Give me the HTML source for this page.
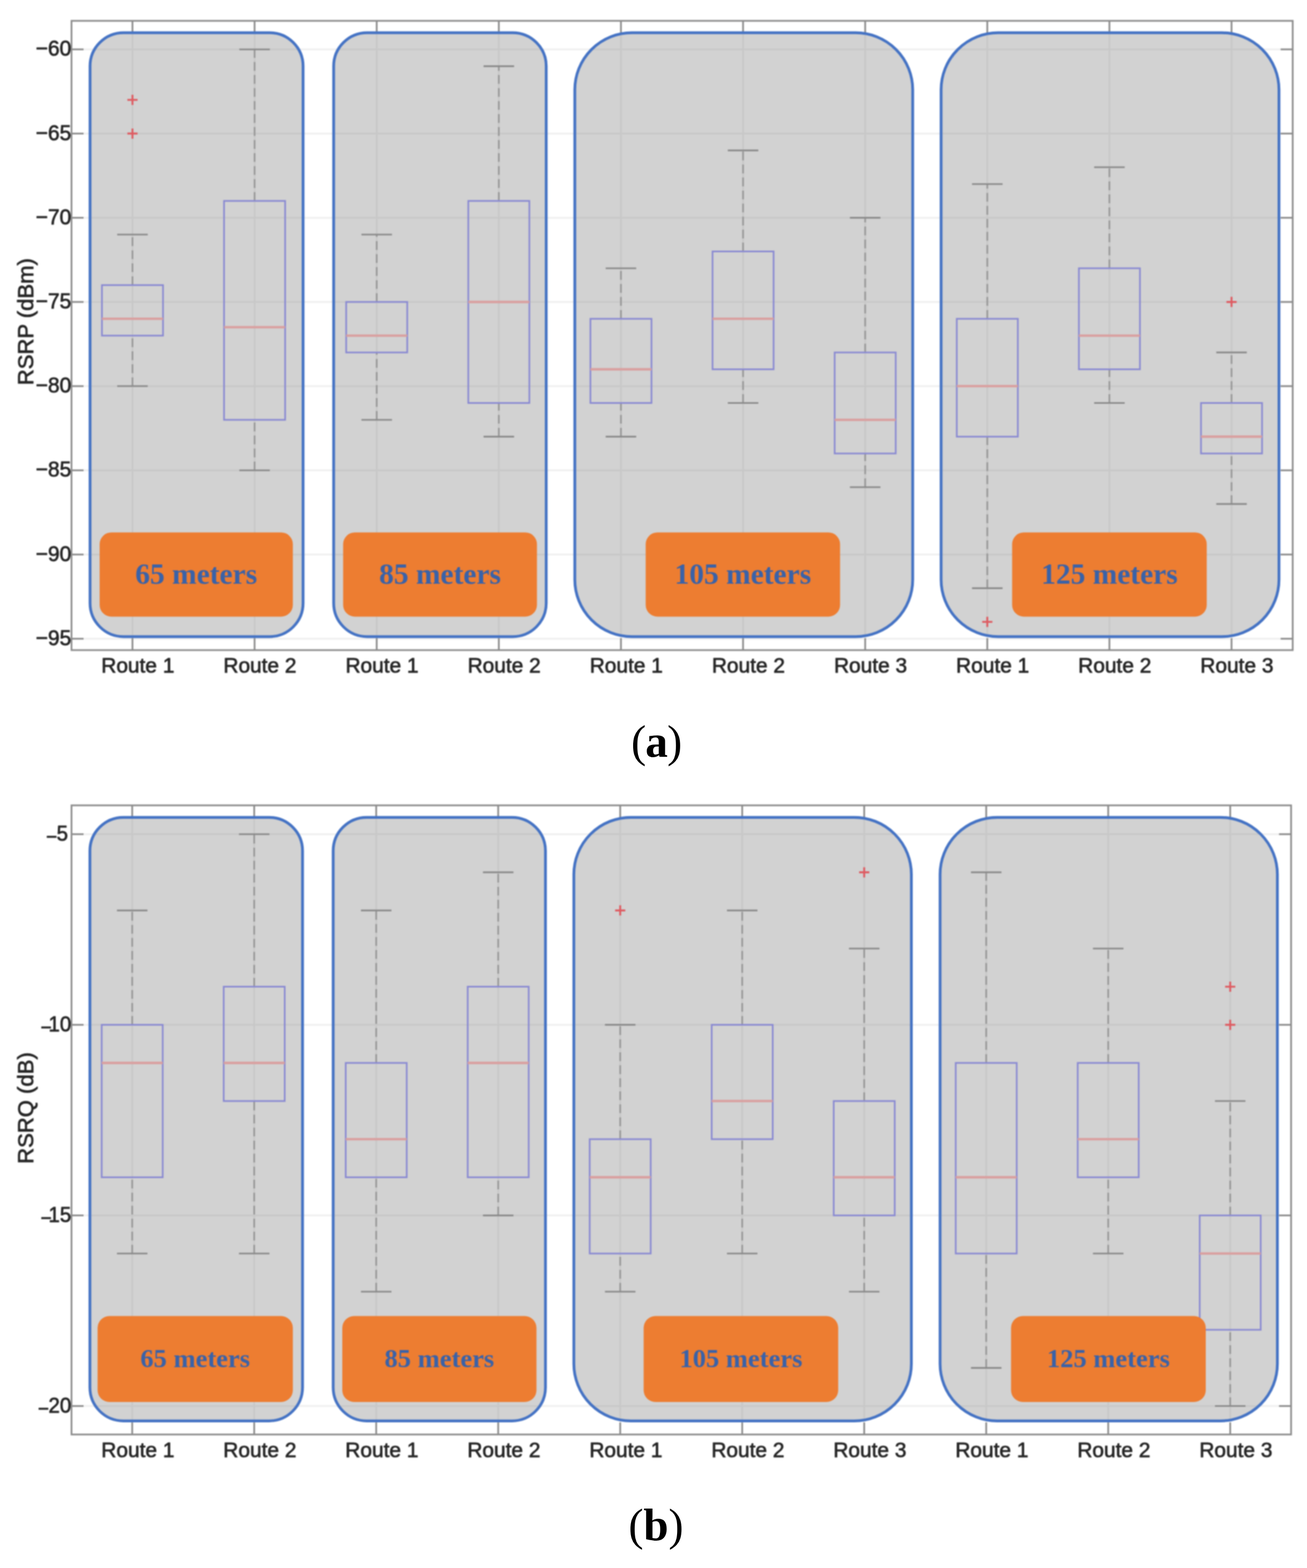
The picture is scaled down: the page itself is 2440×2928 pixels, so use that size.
<!DOCTYPE html>
<html lang="en">
<head>
<meta charset="utf-8">
<title>RSRP and RSRQ box plots by route and distance</title>
<style>
html, body { margin: 0; padding: 0; background: #ffffff; }
body { width: 2440px; height: 2928px; overflow: hidden; }
svg { display: block; }
</style>
</head>
<body>
<svg width="2440" height="2928" viewBox="0 0 2440 2928" role="img" aria-label="Box plots of RSRP and RSRQ per route at 65, 85, 105 and 125 meters">
<defs><filter id="soft" x="0" y="0" width="2440" height="2928" filterUnits="userSpaceOnUse" color-interpolation-filters="sRGB"><feGaussianBlur stdDeviation="0.8"/></filter>
<filter id="soft2" x="0" y="0" width="2440" height="2928" filterUnits="userSpaceOnUse" color-interpolation-filters="sRGB"><feGaussianBlur stdDeviation="0.35"/></filter></defs>
<rect x="0" y="0" width="2440" height="2928" fill="#ffffff"/>
<g id="chart-a" filter="url(#soft)">
<rect x="0" y="-1.1" width="2440" height="1295.1" fill="#ffffff"/>
<defs><clipPath id="clip-a">
<rect x="168.1" y="61.1" width="397.7" height="1127.7" rx="62.5" ry="62.5"/>
<rect x="622.9" y="61.1" width="396.8" height="1127.7" rx="62.5" ry="62.5"/>
<rect x="1073.1" y="61.1" width="630.8" height="1127.7" rx="106.5" ry="106.5"/>
<rect x="1756.9" y="61.1" width="630.8" height="1127.7" rx="106.5" ry="106.5"/>
</clipPath></defs>
<g stroke="#f0f0f0" stroke-width="3.5" fill="none">
<line x1="133.5" y1="92.2" x2="2413.3" y2="92.2"/>
<line x1="133.5" y1="249.42" x2="2413.3" y2="249.42"/>
<line x1="133.5" y1="406.63" x2="2413.3" y2="406.63"/>
<line x1="133.5" y1="563.85" x2="2413.3" y2="563.85"/>
<line x1="133.5" y1="721.06" x2="2413.3" y2="721.06"/>
<line x1="133.5" y1="878.28" x2="2413.3" y2="878.28"/>
<line x1="133.5" y1="1035.49" x2="2413.3" y2="1035.49"/>
<line x1="133.5" y1="1192.71" x2="2413.3" y2="1192.71"/>
<line x1="247.3" y1="38.9" x2="247.3" y2="1214"/>
<line x1="475.28" y1="38.9" x2="475.28" y2="1214"/>
<line x1="703.26" y1="38.9" x2="703.26" y2="1214"/>
<line x1="931.24" y1="38.9" x2="931.24" y2="1214"/>
<line x1="1159.22" y1="38.9" x2="1159.22" y2="1214"/>
<line x1="1387.2" y1="38.9" x2="1387.2" y2="1214"/>
<line x1="1615.18" y1="38.9" x2="1615.18" y2="1214"/>
<line x1="1843.16" y1="38.9" x2="1843.16" y2="1214"/>
<line x1="2071.14" y1="38.9" x2="2071.14" y2="1214"/>
<line x1="2299.12" y1="38.9" x2="2299.12" y2="1214"/>
</g>
<g stroke="#8c8c8c" stroke-width="3.2" fill="none">
<line x1="133.5" y1="92.2" x2="156" y2="92.2"/>
<line x1="2390.8" y1="92.2" x2="2413.3" y2="92.2"/>
<line x1="133.5" y1="249.42" x2="156" y2="249.42"/>
<line x1="2390.8" y1="249.42" x2="2413.3" y2="249.42"/>
<line x1="133.5" y1="406.63" x2="156" y2="406.63"/>
<line x1="2390.8" y1="406.63" x2="2413.3" y2="406.63"/>
<line x1="133.5" y1="563.85" x2="156" y2="563.85"/>
<line x1="2390.8" y1="563.85" x2="2413.3" y2="563.85"/>
<line x1="133.5" y1="721.06" x2="156" y2="721.06"/>
<line x1="2390.8" y1="721.06" x2="2413.3" y2="721.06"/>
<line x1="133.5" y1="878.28" x2="156" y2="878.28"/>
<line x1="2390.8" y1="878.28" x2="2413.3" y2="878.28"/>
<line x1="133.5" y1="1035.49" x2="156" y2="1035.49"/>
<line x1="2390.8" y1="1035.49" x2="2413.3" y2="1035.49"/>
<line x1="133.5" y1="1192.71" x2="156" y2="1192.71"/>
<line x1="2390.8" y1="1192.71" x2="2413.3" y2="1192.71"/>
<line x1="247.3" y1="38.9" x2="247.3" y2="61.4"/>
<line x1="247.3" y1="1191.5" x2="247.3" y2="1214"/>
<line x1="475.28" y1="38.9" x2="475.28" y2="61.4"/>
<line x1="475.28" y1="1191.5" x2="475.28" y2="1214"/>
<line x1="703.26" y1="38.9" x2="703.26" y2="61.4"/>
<line x1="703.26" y1="1191.5" x2="703.26" y2="1214"/>
<line x1="931.24" y1="38.9" x2="931.24" y2="61.4"/>
<line x1="931.24" y1="1191.5" x2="931.24" y2="1214"/>
<line x1="1159.22" y1="38.9" x2="1159.22" y2="61.4"/>
<line x1="1159.22" y1="1191.5" x2="1159.22" y2="1214"/>
<line x1="1387.2" y1="38.9" x2="1387.2" y2="61.4"/>
<line x1="1387.2" y1="1191.5" x2="1387.2" y2="1214"/>
<line x1="1615.18" y1="38.9" x2="1615.18" y2="61.4"/>
<line x1="1615.18" y1="1191.5" x2="1615.18" y2="1214"/>
<line x1="1843.16" y1="38.9" x2="1843.16" y2="61.4"/>
<line x1="1843.16" y1="1191.5" x2="1843.16" y2="1214"/>
<line x1="2071.14" y1="38.9" x2="2071.14" y2="61.4"/>
<line x1="2071.14" y1="1191.5" x2="2071.14" y2="1214"/>
<line x1="2299.12" y1="38.9" x2="2299.12" y2="61.4"/>
<line x1="2299.12" y1="1191.5" x2="2299.12" y2="1214"/>
<rect x="133.5" y="38.9" width="2279.8" height="1175.1"/>
</g>
<rect x="168.1" y="61.1" width="397.7" height="1127.7" rx="62.5" ry="62.5" fill="#d2d2d2"/>
<rect x="622.9" y="61.1" width="396.8" height="1127.7" rx="62.5" ry="62.5" fill="#d2d2d2"/>
<rect x="1073.1" y="61.1" width="630.8" height="1127.7" rx="106.5" ry="106.5" fill="#d2d2d2"/>
<rect x="1756.9" y="61.1" width="630.8" height="1127.7" rx="106.5" ry="106.5" fill="#d2d2d2"/>
<g stroke="#c8c8c8" stroke-width="3.3" fill="none" clip-path="url(#clip-a)">
<line x1="133.5" y1="92.2" x2="2413.3" y2="92.2"/>
<line x1="133.5" y1="249.42" x2="2413.3" y2="249.42"/>
<line x1="133.5" y1="406.63" x2="2413.3" y2="406.63"/>
<line x1="133.5" y1="563.85" x2="2413.3" y2="563.85"/>
<line x1="133.5" y1="721.06" x2="2413.3" y2="721.06"/>
<line x1="133.5" y1="878.28" x2="2413.3" y2="878.28"/>
<line x1="133.5" y1="1035.49" x2="2413.3" y2="1035.49"/>
<line x1="133.5" y1="1192.71" x2="2413.3" y2="1192.71"/>
<line x1="247.3" y1="38.9" x2="247.3" y2="1214"/>
<line x1="475.28" y1="38.9" x2="475.28" y2="1214"/>
<line x1="703.26" y1="38.9" x2="703.26" y2="1214"/>
<line x1="931.24" y1="38.9" x2="931.24" y2="1214"/>
<line x1="1159.22" y1="38.9" x2="1159.22" y2="1214"/>
<line x1="1387.2" y1="38.9" x2="1387.2" y2="1214"/>
<line x1="1615.18" y1="38.9" x2="1615.18" y2="1214"/>
<line x1="1843.16" y1="38.9" x2="1843.16" y2="1214"/>
<line x1="2071.14" y1="38.9" x2="2071.14" y2="1214"/>
<line x1="2299.12" y1="38.9" x2="2299.12" y2="1214"/>
</g>
<rect x="168.1" y="61.1" width="397.7" height="1127.7" rx="62.5" ry="62.5" fill="none" stroke="#4573c4" stroke-width="5.2"/>
<rect x="622.9" y="61.1" width="396.8" height="1127.7" rx="62.5" ry="62.5" fill="none" stroke="#4573c4" stroke-width="5.2"/>
<rect x="1073.1" y="61.1" width="630.8" height="1127.7" rx="106.5" ry="106.5" fill="none" stroke="#4573c4" stroke-width="5.2"/>
<rect x="1756.9" y="61.1" width="630.8" height="1127.7" rx="106.5" ry="106.5" fill="none" stroke="#4573c4" stroke-width="5.2"/>
<g>
<line x1="247.3" y1="532.4" x2="247.3" y2="438.07" stroke="#989898" stroke-width="3.1" stroke-dasharray="16.4 7.9"/>
<line x1="247.3" y1="721.06" x2="247.3" y2="626.73" stroke="#989898" stroke-width="3.1" stroke-dasharray="16.4 7.9"/>
<line x1="218.8" y1="438.07" x2="275.8" y2="438.07" stroke="#8a8a8a" stroke-width="3.1"/>
<line x1="218.8" y1="721.06" x2="275.8" y2="721.06" stroke="#8a8a8a" stroke-width="3.1"/>
<rect x="190.31" y="532.4" width="113.99" height="94.33" fill="none" stroke="#8a8ad2" stroke-width="3.1"/>
<line x1="190.31" y1="595.29" x2="304.3" y2="595.29" stroke="#d9a0a0" stroke-width="4.6"/>
<path d="M237.8 186.53 H256.8 M247.3 177.03 V196.03" stroke="#de5c62" stroke-width="3.6" fill="none"/>
<path d="M237.8 249.42 H256.8 M247.3 239.92 V258.92" stroke="#de5c62" stroke-width="3.6" fill="none"/>
</g>
<g>
<line x1="475.28" y1="375.19" x2="475.28" y2="92.2" stroke="#989898" stroke-width="3.1" stroke-dasharray="16.4 7.9"/>
<line x1="475.28" y1="878.28" x2="475.28" y2="783.95" stroke="#989898" stroke-width="3.1" stroke-dasharray="16.4 7.9"/>
<line x1="446.78" y1="92.2" x2="503.78" y2="92.2" stroke="#8a8a8a" stroke-width="3.1"/>
<line x1="446.78" y1="878.28" x2="503.78" y2="878.28" stroke="#8a8a8a" stroke-width="3.1"/>
<rect x="418.28" y="375.19" width="113.99" height="408.76" fill="none" stroke="#8a8ad2" stroke-width="3.1"/>
<line x1="418.28" y1="611.01" x2="532.27" y2="611.01" stroke="#d9a0a0" stroke-width="4.6"/>
</g>
<g>
<line x1="703.26" y1="563.85" x2="703.26" y2="438.07" stroke="#989898" stroke-width="3.1" stroke-dasharray="16.4 7.9"/>
<line x1="703.26" y1="783.95" x2="703.26" y2="658.17" stroke="#989898" stroke-width="3.1" stroke-dasharray="16.4 7.9"/>
<line x1="674.76" y1="438.07" x2="731.76" y2="438.07" stroke="#8a8a8a" stroke-width="3.1"/>
<line x1="674.76" y1="783.95" x2="731.76" y2="783.95" stroke="#8a8a8a" stroke-width="3.1"/>
<rect x="646.26" y="563.85" width="113.99" height="94.33" fill="none" stroke="#8a8ad2" stroke-width="3.1"/>
<line x1="646.26" y1="626.73" x2="760.25" y2="626.73" stroke="#d9a0a0" stroke-width="4.6"/>
</g>
<g>
<line x1="931.24" y1="375.19" x2="931.24" y2="123.64" stroke="#989898" stroke-width="3.1" stroke-dasharray="16.4 7.9"/>
<line x1="931.24" y1="815.39" x2="931.24" y2="752.5" stroke="#989898" stroke-width="3.1" stroke-dasharray="16.4 7.9"/>
<line x1="902.74" y1="123.64" x2="959.74" y2="123.64" stroke="#8a8a8a" stroke-width="3.1"/>
<line x1="902.74" y1="815.39" x2="959.74" y2="815.39" stroke="#8a8a8a" stroke-width="3.1"/>
<rect x="874.25" y="375.19" width="113.99" height="377.32" fill="none" stroke="#8a8ad2" stroke-width="3.1"/>
<line x1="874.25" y1="563.85" x2="988.24" y2="563.85" stroke="#d9a0a0" stroke-width="4.6"/>
</g>
<g>
<line x1="1159.22" y1="595.29" x2="1159.22" y2="500.96" stroke="#989898" stroke-width="3.1" stroke-dasharray="16.4 7.9"/>
<line x1="1159.22" y1="815.39" x2="1159.22" y2="752.5" stroke="#989898" stroke-width="3.1" stroke-dasharray="16.4 7.9"/>
<line x1="1130.72" y1="500.96" x2="1187.72" y2="500.96" stroke="#8a8a8a" stroke-width="3.1"/>
<line x1="1130.72" y1="815.39" x2="1187.72" y2="815.39" stroke="#8a8a8a" stroke-width="3.1"/>
<rect x="1102.23" y="595.29" width="113.99" height="157.22" fill="none" stroke="#8a8ad2" stroke-width="3.1"/>
<line x1="1102.23" y1="689.62" x2="1216.21" y2="689.62" stroke="#d9a0a0" stroke-width="4.6"/>
</g>
<g>
<line x1="1387.2" y1="469.52" x2="1387.2" y2="280.86" stroke="#989898" stroke-width="3.1" stroke-dasharray="16.4 7.9"/>
<line x1="1387.2" y1="752.5" x2="1387.2" y2="689.62" stroke="#989898" stroke-width="3.1" stroke-dasharray="16.4 7.9"/>
<line x1="1358.7" y1="280.86" x2="1415.7" y2="280.86" stroke="#8a8a8a" stroke-width="3.1"/>
<line x1="1358.7" y1="752.5" x2="1415.7" y2="752.5" stroke="#8a8a8a" stroke-width="3.1"/>
<rect x="1330.2" y="469.52" width="113.99" height="220.1" fill="none" stroke="#8a8ad2" stroke-width="3.1"/>
<line x1="1330.2" y1="595.29" x2="1444.19" y2="595.29" stroke="#d9a0a0" stroke-width="4.6"/>
</g>
<g>
<line x1="1615.18" y1="658.17" x2="1615.18" y2="406.63" stroke="#989898" stroke-width="3.1" stroke-dasharray="16.4 7.9"/>
<line x1="1615.18" y1="909.72" x2="1615.18" y2="846.83" stroke="#989898" stroke-width="3.1" stroke-dasharray="16.4 7.9"/>
<line x1="1586.68" y1="406.63" x2="1643.68" y2="406.63" stroke="#8a8a8a" stroke-width="3.1"/>
<line x1="1586.68" y1="909.72" x2="1643.68" y2="909.72" stroke="#8a8a8a" stroke-width="3.1"/>
<rect x="1558.18" y="658.17" width="113.99" height="188.66" fill="none" stroke="#8a8ad2" stroke-width="3.1"/>
<line x1="1558.18" y1="783.95" x2="1672.17" y2="783.95" stroke="#d9a0a0" stroke-width="4.6"/>
</g>
<g>
<line x1="1843.16" y1="595.29" x2="1843.16" y2="343.74" stroke="#989898" stroke-width="3.1" stroke-dasharray="16.4 7.9"/>
<line x1="1843.16" y1="1098.38" x2="1843.16" y2="815.39" stroke="#989898" stroke-width="3.1" stroke-dasharray="16.4 7.9"/>
<line x1="1814.66" y1="343.74" x2="1871.66" y2="343.74" stroke="#8a8a8a" stroke-width="3.1"/>
<line x1="1814.66" y1="1098.38" x2="1871.66" y2="1098.38" stroke="#8a8a8a" stroke-width="3.1"/>
<rect x="1786.16" y="595.29" width="113.99" height="220.1" fill="none" stroke="#8a8ad2" stroke-width="3.1"/>
<line x1="1786.16" y1="721.06" x2="1900.15" y2="721.06" stroke="#d9a0a0" stroke-width="4.6"/>
<path d="M1833.66 1161.26 H1852.66 M1843.16 1151.76 V1170.76" stroke="#de5c62" stroke-width="3.6" fill="none"/>
</g>
<g>
<line x1="2071.14" y1="500.96" x2="2071.14" y2="312.3" stroke="#989898" stroke-width="3.1" stroke-dasharray="16.4 7.9"/>
<line x1="2071.14" y1="752.5" x2="2071.14" y2="689.62" stroke="#989898" stroke-width="3.1" stroke-dasharray="16.4 7.9"/>
<line x1="2042.64" y1="312.3" x2="2099.64" y2="312.3" stroke="#8a8a8a" stroke-width="3.1"/>
<line x1="2042.64" y1="752.5" x2="2099.64" y2="752.5" stroke="#8a8a8a" stroke-width="3.1"/>
<rect x="2014.14" y="500.96" width="113.99" height="188.66" fill="none" stroke="#8a8ad2" stroke-width="3.1"/>
<line x1="2014.14" y1="626.73" x2="2128.13" y2="626.73" stroke="#d9a0a0" stroke-width="4.6"/>
</g>
<g>
<line x1="2299.12" y1="752.5" x2="2299.12" y2="658.17" stroke="#989898" stroke-width="3.1" stroke-dasharray="16.4 7.9"/>
<line x1="2299.12" y1="941.16" x2="2299.12" y2="846.83" stroke="#989898" stroke-width="3.1" stroke-dasharray="16.4 7.9"/>
<line x1="2270.62" y1="658.17" x2="2327.62" y2="658.17" stroke="#8a8a8a" stroke-width="3.1"/>
<line x1="2270.62" y1="941.16" x2="2327.62" y2="941.16" stroke="#8a8a8a" stroke-width="3.1"/>
<rect x="2242.12" y="752.5" width="113.99" height="94.33" fill="none" stroke="#8a8ad2" stroke-width="3.1"/>
<line x1="2242.12" y1="815.39" x2="2356.11" y2="815.39" stroke="#d9a0a0" stroke-width="4.6"/>
<path d="M2289.62 563.85 H2308.62 M2299.12 554.35 V573.35" stroke="#de5c62" stroke-width="3.6" fill="none"/>
</g>
<rect x="186" y="994.2" width="360.7" height="157.3" rx="22" ry="22" fill="#ed7d31"/>
<text x="366.35" y="1090.3" text-anchor="middle" font-family="'Liberation Serif', 'DejaVu Serif', serif" font-weight="bold" font-size="55" fill="#3a62a8">65 meters</text>
<rect x="640.6" y="994.2" width="361.8" height="157.3" rx="22" ry="22" fill="#ed7d31"/>
<text x="821.5" y="1090.3" text-anchor="middle" font-family="'Liberation Serif', 'DejaVu Serif', serif" font-weight="bold" font-size="55" fill="#3a62a8">85 meters</text>
<rect x="1205.4" y="994.2" width="362.9" height="157.3" rx="22" ry="22" fill="#ed7d31"/>
<text x="1386.85" y="1090.3" text-anchor="middle" font-family="'Liberation Serif', 'DejaVu Serif', serif" font-weight="bold" font-size="55" fill="#3a62a8">105 meters</text>
<rect x="1889.5" y="994.2" width="363.3" height="157.3" rx="22" ry="22" fill="#ed7d31"/>
<text x="2071.15" y="1090.3" text-anchor="middle" font-family="'Liberation Serif', 'DejaVu Serif', serif" font-weight="bold" font-size="55" fill="#3a62a8">125 meters</text>
<g font-family="'Liberation Sans', 'DejaVu Sans', sans-serif" font-size="40" fill="#262626" stroke="#262626" stroke-width="1.1" stroke-linejoin="round">
<text transform="translate(133.1 104.4) scale(0.955 1)" text-anchor="end" font-size="41">−60</text>
<text transform="translate(133.1 261.62) scale(0.955 1)" text-anchor="end" font-size="41">−65</text>
<text transform="translate(133.1 418.83) scale(0.955 1)" text-anchor="end" font-size="41">−70</text>
<text transform="translate(133.1 576.05) scale(0.955 1)" text-anchor="end" font-size="41">−75</text>
<text transform="translate(133.1 733.26) scale(0.955 1)" text-anchor="end" font-size="41">−80</text>
<text transform="translate(133.1 890.48) scale(0.955 1)" text-anchor="end" font-size="41">−85</text>
<text transform="translate(133.1 1047.69) scale(0.955 1)" text-anchor="end" font-size="41">−90</text>
<text transform="translate(133.1 1204.91) scale(0.955 1)" text-anchor="end" font-size="41">−95</text>
<text x="257.3" y="1255.8" text-anchor="middle" font-size="39">Route 1</text>
<text x="485.28" y="1255.8" text-anchor="middle" font-size="39">Route 2</text>
<text x="713.26" y="1255.8" text-anchor="middle" font-size="39">Route 1</text>
<text x="941.24" y="1255.8" text-anchor="middle" font-size="39">Route 2</text>
<text x="1169.22" y="1255.8" text-anchor="middle" font-size="39">Route 1</text>
<text x="1397.2" y="1255.8" text-anchor="middle" font-size="39">Route 2</text>
<text x="1625.18" y="1255.8" text-anchor="middle" font-size="39">Route 3</text>
<text x="1853.16" y="1255.8" text-anchor="middle" font-size="39">Route 1</text>
<text x="2081.14" y="1255.8" text-anchor="middle" font-size="39">Route 2</text>
<text x="2309.12" y="1255.8" text-anchor="middle" font-size="39">Route 3</text>
<text transform="translate(62 600.7) rotate(-90)" text-anchor="middle" font-size="41.2">RSRP (dBm)</text>
</g>
</g>
<text x="1225.2" y="1412.6" text-anchor="middle" font-family="'Liberation Serif', 'DejaVu Serif', serif" font-size="84" fill="#000000" letter-spacing="-1.3" filter="url(#soft2)">(<tspan font-weight="bold">a</tspan>)</text>
<g id="chart-b" filter="url(#soft)">
<rect x="0" y="1463.9" width="2440" height="1294.8" fill="#ffffff"/>
<defs><clipPath id="clip-b">
<rect x="167.85" y="1526.3" width="396.95" height="1127" rx="62.5" ry="62.5"/>
<rect x="622" y="1526.3" width="396.3" height="1127" rx="62.5" ry="62.5"/>
<rect x="1071.3" y="1526.3" width="630.1" height="1127" rx="106.5" ry="106.5"/>
<rect x="1755" y="1526.3" width="629.7" height="1127" rx="106.5" ry="106.5"/>
</clipPath></defs>
<g stroke="#f0f0f0" stroke-width="3.5" fill="none">
<line x1="133.5" y1="1557.7" x2="2410.3" y2="1557.7"/>
<line x1="133.5" y1="1913.65" x2="2410.3" y2="1913.65"/>
<line x1="133.5" y1="2269.6" x2="2410.3" y2="2269.6"/>
<line x1="133.5" y1="2625.55" x2="2410.3" y2="2625.55"/>
<line x1="246.8" y1="1503.9" x2="246.8" y2="2678.7"/>
<line x1="474.56" y1="1503.9" x2="474.56" y2="2678.7"/>
<line x1="702.32" y1="1503.9" x2="702.32" y2="2678.7"/>
<line x1="930.08" y1="1503.9" x2="930.08" y2="2678.7"/>
<line x1="1157.84" y1="1503.9" x2="1157.84" y2="2678.7"/>
<line x1="1385.6" y1="1503.9" x2="1385.6" y2="2678.7"/>
<line x1="1613.36" y1="1503.9" x2="1613.36" y2="2678.7"/>
<line x1="1841.12" y1="1503.9" x2="1841.12" y2="2678.7"/>
<line x1="2068.88" y1="1503.9" x2="2068.88" y2="2678.7"/>
<line x1="2296.64" y1="1503.9" x2="2296.64" y2="2678.7"/>
</g>
<g stroke="#8c8c8c" stroke-width="3.2" fill="none">
<line x1="133.5" y1="1557.7" x2="156" y2="1557.7"/>
<line x1="2387.8" y1="1557.7" x2="2410.3" y2="1557.7"/>
<line x1="133.5" y1="1913.65" x2="156" y2="1913.65"/>
<line x1="2387.8" y1="1913.65" x2="2410.3" y2="1913.65"/>
<line x1="133.5" y1="2269.6" x2="156" y2="2269.6"/>
<line x1="2387.8" y1="2269.6" x2="2410.3" y2="2269.6"/>
<line x1="133.5" y1="2625.55" x2="156" y2="2625.55"/>
<line x1="2387.8" y1="2625.55" x2="2410.3" y2="2625.55"/>
<line x1="246.8" y1="1503.9" x2="246.8" y2="1526.4"/>
<line x1="246.8" y1="2656.2" x2="246.8" y2="2678.7"/>
<line x1="474.56" y1="1503.9" x2="474.56" y2="1526.4"/>
<line x1="474.56" y1="2656.2" x2="474.56" y2="2678.7"/>
<line x1="702.32" y1="1503.9" x2="702.32" y2="1526.4"/>
<line x1="702.32" y1="2656.2" x2="702.32" y2="2678.7"/>
<line x1="930.08" y1="1503.9" x2="930.08" y2="1526.4"/>
<line x1="930.08" y1="2656.2" x2="930.08" y2="2678.7"/>
<line x1="1157.84" y1="1503.9" x2="1157.84" y2="1526.4"/>
<line x1="1157.84" y1="2656.2" x2="1157.84" y2="2678.7"/>
<line x1="1385.6" y1="1503.9" x2="1385.6" y2="1526.4"/>
<line x1="1385.6" y1="2656.2" x2="1385.6" y2="2678.7"/>
<line x1="1613.36" y1="1503.9" x2="1613.36" y2="1526.4"/>
<line x1="1613.36" y1="2656.2" x2="1613.36" y2="2678.7"/>
<line x1="1841.12" y1="1503.9" x2="1841.12" y2="1526.4"/>
<line x1="1841.12" y1="2656.2" x2="1841.12" y2="2678.7"/>
<line x1="2068.88" y1="1503.9" x2="2068.88" y2="1526.4"/>
<line x1="2068.88" y1="2656.2" x2="2068.88" y2="2678.7"/>
<line x1="2296.64" y1="1503.9" x2="2296.64" y2="1526.4"/>
<line x1="2296.64" y1="2656.2" x2="2296.64" y2="2678.7"/>
<rect x="133.5" y="1503.9" width="2276.8" height="1174.8"/>
</g>
<rect x="167.85" y="1526.3" width="396.95" height="1127" rx="62.5" ry="62.5" fill="#d2d2d2"/>
<rect x="622" y="1526.3" width="396.3" height="1127" rx="62.5" ry="62.5" fill="#d2d2d2"/>
<rect x="1071.3" y="1526.3" width="630.1" height="1127" rx="106.5" ry="106.5" fill="#d2d2d2"/>
<rect x="1755" y="1526.3" width="629.7" height="1127" rx="106.5" ry="106.5" fill="#d2d2d2"/>
<g stroke="#c8c8c8" stroke-width="3.3" fill="none" clip-path="url(#clip-b)">
<line x1="133.5" y1="1557.7" x2="2410.3" y2="1557.7"/>
<line x1="133.5" y1="1913.65" x2="2410.3" y2="1913.65"/>
<line x1="133.5" y1="2269.6" x2="2410.3" y2="2269.6"/>
<line x1="133.5" y1="2625.55" x2="2410.3" y2="2625.55"/>
<line x1="246.8" y1="1503.9" x2="246.8" y2="2678.7"/>
<line x1="474.56" y1="1503.9" x2="474.56" y2="2678.7"/>
<line x1="702.32" y1="1503.9" x2="702.32" y2="2678.7"/>
<line x1="930.08" y1="1503.9" x2="930.08" y2="2678.7"/>
<line x1="1157.84" y1="1503.9" x2="1157.84" y2="2678.7"/>
<line x1="1385.6" y1="1503.9" x2="1385.6" y2="2678.7"/>
<line x1="1613.36" y1="1503.9" x2="1613.36" y2="2678.7"/>
<line x1="1841.12" y1="1503.9" x2="1841.12" y2="2678.7"/>
<line x1="2068.88" y1="1503.9" x2="2068.88" y2="2678.7"/>
<line x1="2296.64" y1="1503.9" x2="2296.64" y2="2678.7"/>
</g>
<rect x="167.85" y="1526.3" width="396.95" height="1127" rx="62.5" ry="62.5" fill="none" stroke="#4573c4" stroke-width="5.2"/>
<rect x="622" y="1526.3" width="396.3" height="1127" rx="62.5" ry="62.5" fill="none" stroke="#4573c4" stroke-width="5.2"/>
<rect x="1071.3" y="1526.3" width="630.1" height="1127" rx="106.5" ry="106.5" fill="none" stroke="#4573c4" stroke-width="5.2"/>
<rect x="1755" y="1526.3" width="629.7" height="1127" rx="106.5" ry="106.5" fill="none" stroke="#4573c4" stroke-width="5.2"/>
<g>
<line x1="246.8" y1="1913.65" x2="246.8" y2="1700.08" stroke="#989898" stroke-width="3.1" stroke-dasharray="16.4 7.9"/>
<line x1="246.8" y1="2340.79" x2="246.8" y2="2198.41" stroke="#989898" stroke-width="3.1" stroke-dasharray="16.4 7.9"/>
<line x1="218.33" y1="1700.08" x2="275.27" y2="1700.08" stroke="#8a8a8a" stroke-width="3.1"/>
<line x1="218.33" y1="2340.79" x2="275.27" y2="2340.79" stroke="#8a8a8a" stroke-width="3.1"/>
<rect x="189.86" y="1913.65" width="113.88" height="284.76" fill="none" stroke="#8a8ad2" stroke-width="3.1"/>
<line x1="189.86" y1="1984.84" x2="303.74" y2="1984.84" stroke="#d9a0a0" stroke-width="4.6"/>
</g>
<g>
<line x1="474.56" y1="1842.46" x2="474.56" y2="1557.7" stroke="#989898" stroke-width="3.1" stroke-dasharray="16.4 7.9"/>
<line x1="474.56" y1="2340.79" x2="474.56" y2="2056.03" stroke="#989898" stroke-width="3.1" stroke-dasharray="16.4 7.9"/>
<line x1="446.09" y1="1557.7" x2="503.03" y2="1557.7" stroke="#8a8a8a" stroke-width="3.1"/>
<line x1="446.09" y1="2340.79" x2="503.03" y2="2340.79" stroke="#8a8a8a" stroke-width="3.1"/>
<rect x="417.62" y="1842.46" width="113.88" height="213.57" fill="none" stroke="#8a8ad2" stroke-width="3.1"/>
<line x1="417.62" y1="1984.84" x2="531.5" y2="1984.84" stroke="#d9a0a0" stroke-width="4.6"/>
</g>
<g>
<line x1="702.32" y1="1984.84" x2="702.32" y2="1700.08" stroke="#989898" stroke-width="3.1" stroke-dasharray="16.4 7.9"/>
<line x1="702.32" y1="2411.98" x2="702.32" y2="2198.41" stroke="#989898" stroke-width="3.1" stroke-dasharray="16.4 7.9"/>
<line x1="673.85" y1="1700.08" x2="730.79" y2="1700.08" stroke="#8a8a8a" stroke-width="3.1"/>
<line x1="673.85" y1="2411.98" x2="730.79" y2="2411.98" stroke="#8a8a8a" stroke-width="3.1"/>
<rect x="645.38" y="1984.84" width="113.88" height="213.57" fill="none" stroke="#8a8ad2" stroke-width="3.1"/>
<line x1="645.38" y1="2127.22" x2="759.26" y2="2127.22" stroke="#d9a0a0" stroke-width="4.6"/>
</g>
<g>
<line x1="930.08" y1="1842.46" x2="930.08" y2="1628.89" stroke="#989898" stroke-width="3.1" stroke-dasharray="16.4 7.9"/>
<line x1="930.08" y1="2269.6" x2="930.08" y2="2198.41" stroke="#989898" stroke-width="3.1" stroke-dasharray="16.4 7.9"/>
<line x1="901.61" y1="1628.89" x2="958.55" y2="1628.89" stroke="#8a8a8a" stroke-width="3.1"/>
<line x1="901.61" y1="2269.6" x2="958.55" y2="2269.6" stroke="#8a8a8a" stroke-width="3.1"/>
<rect x="873.14" y="1842.46" width="113.88" height="355.95" fill="none" stroke="#8a8ad2" stroke-width="3.1"/>
<line x1="873.14" y1="1984.84" x2="987.02" y2="1984.84" stroke="#d9a0a0" stroke-width="4.6"/>
</g>
<g>
<line x1="1157.84" y1="2127.22" x2="1157.84" y2="1913.65" stroke="#989898" stroke-width="3.1" stroke-dasharray="16.4 7.9"/>
<line x1="1157.84" y1="2411.98" x2="1157.84" y2="2340.79" stroke="#989898" stroke-width="3.1" stroke-dasharray="16.4 7.9"/>
<line x1="1129.37" y1="1913.65" x2="1186.31" y2="1913.65" stroke="#8a8a8a" stroke-width="3.1"/>
<line x1="1129.37" y1="2411.98" x2="1186.31" y2="2411.98" stroke="#8a8a8a" stroke-width="3.1"/>
<rect x="1100.9" y="2127.22" width="113.88" height="213.57" fill="none" stroke="#8a8ad2" stroke-width="3.1"/>
<line x1="1100.9" y1="2198.41" x2="1214.78" y2="2198.41" stroke="#d9a0a0" stroke-width="4.6"/>
<path d="M1148.34 1700.08 H1167.34 M1157.84 1690.58 V1709.58" stroke="#de5c62" stroke-width="3.6" fill="none"/>
</g>
<g>
<line x1="1385.6" y1="1913.65" x2="1385.6" y2="1700.08" stroke="#989898" stroke-width="3.1" stroke-dasharray="16.4 7.9"/>
<line x1="1385.6" y1="2340.79" x2="1385.6" y2="2127.22" stroke="#989898" stroke-width="3.1" stroke-dasharray="16.4 7.9"/>
<line x1="1357.13" y1="1700.08" x2="1414.07" y2="1700.08" stroke="#8a8a8a" stroke-width="3.1"/>
<line x1="1357.13" y1="2340.79" x2="1414.07" y2="2340.79" stroke="#8a8a8a" stroke-width="3.1"/>
<rect x="1328.66" y="1913.65" width="113.88" height="213.57" fill="none" stroke="#8a8ad2" stroke-width="3.1"/>
<line x1="1328.66" y1="2056.03" x2="1442.54" y2="2056.03" stroke="#d9a0a0" stroke-width="4.6"/>
</g>
<g>
<line x1="1613.36" y1="2056.03" x2="1613.36" y2="1771.27" stroke="#989898" stroke-width="3.1" stroke-dasharray="16.4 7.9"/>
<line x1="1613.36" y1="2411.98" x2="1613.36" y2="2269.6" stroke="#989898" stroke-width="3.1" stroke-dasharray="16.4 7.9"/>
<line x1="1584.89" y1="1771.27" x2="1641.83" y2="1771.27" stroke="#8a8a8a" stroke-width="3.1"/>
<line x1="1584.89" y1="2411.98" x2="1641.83" y2="2411.98" stroke="#8a8a8a" stroke-width="3.1"/>
<rect x="1556.42" y="2056.03" width="113.88" height="213.57" fill="none" stroke="#8a8ad2" stroke-width="3.1"/>
<line x1="1556.42" y1="2198.41" x2="1670.3" y2="2198.41" stroke="#d9a0a0" stroke-width="4.6"/>
<path d="M1603.86 1628.89 H1622.86 M1613.36 1619.39 V1638.39" stroke="#de5c62" stroke-width="3.6" fill="none"/>
</g>
<g>
<line x1="1841.12" y1="1984.84" x2="1841.12" y2="1628.89" stroke="#989898" stroke-width="3.1" stroke-dasharray="16.4 7.9"/>
<line x1="1841.12" y1="2554.36" x2="1841.12" y2="2340.79" stroke="#989898" stroke-width="3.1" stroke-dasharray="16.4 7.9"/>
<line x1="1812.65" y1="1628.89" x2="1869.59" y2="1628.89" stroke="#8a8a8a" stroke-width="3.1"/>
<line x1="1812.65" y1="2554.36" x2="1869.59" y2="2554.36" stroke="#8a8a8a" stroke-width="3.1"/>
<rect x="1784.18" y="1984.84" width="113.88" height="355.95" fill="none" stroke="#8a8ad2" stroke-width="3.1"/>
<line x1="1784.18" y1="2198.41" x2="1898.06" y2="2198.41" stroke="#d9a0a0" stroke-width="4.6"/>
</g>
<g>
<line x1="2068.88" y1="1984.84" x2="2068.88" y2="1771.27" stroke="#989898" stroke-width="3.1" stroke-dasharray="16.4 7.9"/>
<line x1="2068.88" y1="2340.79" x2="2068.88" y2="2198.41" stroke="#989898" stroke-width="3.1" stroke-dasharray="16.4 7.9"/>
<line x1="2040.41" y1="1771.27" x2="2097.35" y2="1771.27" stroke="#8a8a8a" stroke-width="3.1"/>
<line x1="2040.41" y1="2340.79" x2="2097.35" y2="2340.79" stroke="#8a8a8a" stroke-width="3.1"/>
<rect x="2011.94" y="1984.84" width="113.88" height="213.57" fill="none" stroke="#8a8ad2" stroke-width="3.1"/>
<line x1="2011.94" y1="2127.22" x2="2125.82" y2="2127.22" stroke="#d9a0a0" stroke-width="4.6"/>
</g>
<g>
<line x1="2296.64" y1="2269.6" x2="2296.64" y2="2056.03" stroke="#989898" stroke-width="3.1" stroke-dasharray="16.4 7.9"/>
<line x1="2296.64" y1="2625.55" x2="2296.64" y2="2483.17" stroke="#989898" stroke-width="3.1" stroke-dasharray="16.4 7.9"/>
<line x1="2268.17" y1="2056.03" x2="2325.11" y2="2056.03" stroke="#8a8a8a" stroke-width="3.1"/>
<line x1="2268.17" y1="2625.55" x2="2325.11" y2="2625.55" stroke="#8a8a8a" stroke-width="3.1"/>
<rect x="2239.7" y="2269.6" width="113.88" height="213.57" fill="none" stroke="#8a8ad2" stroke-width="3.1"/>
<line x1="2239.7" y1="2340.79" x2="2353.58" y2="2340.79" stroke="#d9a0a0" stroke-width="4.6"/>
<path d="M2287.14 1842.46 H2306.14 M2296.64 1832.96 V1851.96" stroke="#de5c62" stroke-width="3.6" fill="none"/>
<path d="M2287.14 1913.65 H2306.14 M2296.64 1904.15 V1923.15" stroke="#de5c62" stroke-width="3.6" fill="none"/>
</g>
<rect x="182.2" y="2457.6" width="364.5" height="160.4" rx="22" ry="22" fill="#ed7d31"/>
<text x="364.45" y="2553" text-anchor="middle" font-family="'Liberation Serif', 'DejaVu Serif', serif" font-weight="bold" font-size="49.5" fill="#3a62a8">65 meters</text>
<rect x="639" y="2457.6" width="362.5" height="160.4" rx="22" ry="22" fill="#ed7d31"/>
<text x="820.25" y="2553" text-anchor="middle" font-family="'Liberation Serif', 'DejaVu Serif', serif" font-weight="bold" font-size="49.5" fill="#3a62a8">85 meters</text>
<rect x="1201.6" y="2457.6" width="363.2" height="160.4" rx="22" ry="22" fill="#ed7d31"/>
<text x="1383.2" y="2553" text-anchor="middle" font-family="'Liberation Serif', 'DejaVu Serif', serif" font-weight="bold" font-size="49.5" fill="#3a62a8">105 meters</text>
<rect x="1887.5" y="2457.6" width="363.5" height="160.4" rx="22" ry="22" fill="#ed7d31"/>
<text x="2069.25" y="2553" text-anchor="middle" font-family="'Liberation Serif', 'DejaVu Serif', serif" font-weight="bold" font-size="49.5" fill="#3a62a8">125 meters</text>
<g font-family="'Liberation Sans', 'DejaVu Sans', sans-serif" font-size="40" fill="#262626" stroke="#262626" stroke-width="1.1" stroke-linejoin="round">
<text transform="translate(126.9 1570.3) scale(0.955 1)" text-anchor="end" font-size="40"><tspan font-size="37" x="-21.25" y="4.6">−</tspan><tspan x="0" y="0">5</tspan></text>
<text transform="translate(132.9 1926.25) scale(0.955 1)" text-anchor="end" font-size="40"><tspan font-size="37" x="-38.26" y="4.6">−</tspan><tspan x="0" y="0">10</tspan></text>
<text transform="translate(132.9 2282.2) scale(0.955 1)" text-anchor="end" font-size="40"><tspan font-size="37" x="-38.26" y="4.6">−</tspan><tspan x="0" y="0">15</tspan></text>
<text transform="translate(132.9 2638.15) scale(0.955 1)" text-anchor="end" font-size="40"><tspan font-size="37" x="-43.5" y="4.6">−</tspan><tspan x="0" y="0">20</tspan></text>
<text x="257.4" y="2721" text-anchor="middle" font-size="39">Route 1</text>
<text x="485.16" y="2721" text-anchor="middle" font-size="39">Route 2</text>
<text x="712.92" y="2721" text-anchor="middle" font-size="39">Route 1</text>
<text x="940.68" y="2721" text-anchor="middle" font-size="39">Route 2</text>
<text x="1168.44" y="2721" text-anchor="middle" font-size="39">Route 1</text>
<text x="1396.2" y="2721" text-anchor="middle" font-size="39">Route 2</text>
<text x="1623.96" y="2721" text-anchor="middle" font-size="39">Route 3</text>
<text x="1851.72" y="2721" text-anchor="middle" font-size="39">Route 1</text>
<text x="2079.48" y="2721" text-anchor="middle" font-size="39">Route 2</text>
<text x="2307.24" y="2721" text-anchor="middle" font-size="39">Route 3</text>
<text transform="translate(62 2069) rotate(-90)" text-anchor="middle" font-size="41.2">RSRQ (dB)</text>
</g>
</g>
<text x="1224.7" y="2876.1" text-anchor="middle" font-family="'Liberation Serif', 'DejaVu Serif', serif" font-size="84" fill="#000000" letter-spacing="0" filter="url(#soft2)">(<tspan font-weight="bold">b</tspan>)</text>
</svg>
</body>
</html>
